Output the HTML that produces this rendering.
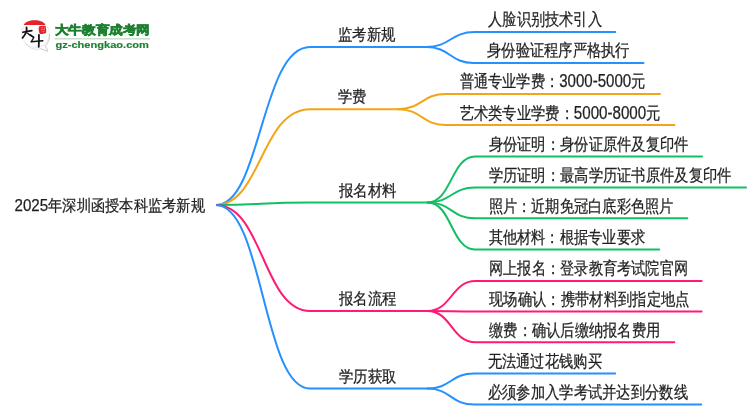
<!DOCTYPE html>
<html><head><meta charset="utf-8"><style>
html,body{margin:0;padding:0;background:#fff;width:750px;height:410px;overflow:hidden}
svg{position:absolute;left:0;top:0;display:block;will-change:transform}
text{font-family:"Liberation Sans",sans-serif;fill:#1f1f1f;stroke:#1f1f1f;stroke-width:0.25px}
</style></head><body>
<svg width="750" height="410" viewBox="0 0 750 410">

<g>
  <circle cx="35.6" cy="33.8" r="13.8" fill="#fff" stroke="#e6e6e6" stroke-width="0.8"/>
  <path d="M49.4 33.8 A13.8 13.8 0 0 1 45.2 45.9" stroke="#c9c9c9" stroke-width="1" fill="none"/>
  <path d="M45.3 45.6 L47.8 51.3 L40.2 48.6" fill="#fff" stroke="#c6c6c6" stroke-width="0.9" stroke-linejoin="round"/>
  <path d="M40.6 48.7 A13.8 13.8 0 0 1 25 43" stroke="#d8d8d8" stroke-width="0.8" fill="none"/>
  <path d="M23.8 24.9 C26 18.6 43.2 18.6 45.4 24.9 Z" fill="#e5242a"/>
  <path d="M38.9 26.6 Q41.8 25.2 45.6 26 Q46.6 29.5 46 33 Q43 34.6 39.6 33.8 Q38 30.2 38.9 26.6 Z" fill="#e3262c"/>
  <path d="M41.2 27.8 L43 27.4 M40.9 29.7 L43.6 29.4 M42.5 31.6 L44.6 31.2 M44.5 27.5 L44.3 30" stroke="#f4a9ab" stroke-width="0.6" fill="none"/>
  <path d="M22.8 32.3 Q27.5 31.2 31.9 30.6" stroke="#141414" stroke-width="1.6" fill="none" stroke-linecap="round"/>
  <path d="M26.5 27.3 Q27.6 32.5 22.5 37.8" stroke="#141414" stroke-width="1.8" fill="none" stroke-linecap="round"/>
  <path d="M27.6 33.2 Q30.5 36 33.6 37" stroke="#141414" stroke-width="1.4" fill="none" stroke-linecap="round"/>
  <path d="M30.6 34.8 L33.8 37.7 L31.3 41.6" stroke="#141414" stroke-width="1.3" fill="none" stroke-linecap="round" stroke-linejoin="round"/>
  <path d="M31.3 41.8 Q37 41.2 42.8 40.7" stroke="#141414" stroke-width="1.5" fill="none" stroke-linecap="round"/>
  <path d="M38.9 34.8 Q39.1 40.5 38.7 46.8" stroke="#141414" stroke-width="1.8" fill="none" stroke-linecap="round"/>
</g>
<text x="54.6" y="34.3" font-size="12.4" font-weight="bold" style="fill:#1c8030;stroke:#1c8030;stroke-width:0.6" textLength="95.5" lengthAdjust="spacingAndGlyphs">大牛教育成考网</text>
<rect x="54.4" y="38.1" width="95.5" height="1.4" fill="#c6dcca"/>
<text x="55.4" y="47.5" font-size="9.3" font-weight="bold" style="fill:#1c8030;stroke:#1c8030;stroke-width:0.15" textLength="93.6" lengthAdjust="spacingAndGlyphs">gz-chengkao.com</text>

<path d="M216 205 C261.12 205 261.12 47.0 310 47.0 H426.4" stroke="#2590ff" stroke-width="2" fill="none" stroke-linecap="butt"/><path d="M426.4 47.0 C450.55 47.0 450.55 32.0 474.7 32.0 H615.2" stroke="#2590ff" stroke-width="2" fill="none" stroke-linecap="round"/><path d="M426.4 47.0 C450.00 47.0 450.00 63.0 473.6 63.0 H643.5" stroke="#2590ff" stroke-width="2" fill="none" stroke-linecap="round"/><path d="M216 205 C261.12 205 261.12 109.2 310 109.2 H397.8" stroke="#f2a516" stroke-width="2" fill="none" stroke-linecap="butt"/><path d="M397.8 109.2 C421.90 109.2 421.90 93.9 446.0 93.9 H660.0" stroke="#f2a516" stroke-width="2" fill="none" stroke-linecap="round"/><path d="M397.8 109.2 C421.90 109.2 421.90 125.1 446.0 125.1 H674.5" stroke="#f2a516" stroke-width="2" fill="none" stroke-linecap="round"/><path d="M216 205 C261.12 205 261.12 202.4 310 202.4 H427.8" stroke="#12bf66" stroke-width="2" fill="none" stroke-linecap="butt"/><path d="M427.8 202.4 C451.40 202.4 451.40 156.4 475.0 156.4 H702.0" stroke="#12bf66" stroke-width="2" fill="none" stroke-linecap="round"/><path d="M427.8 202.4 C451.40 202.4 451.40 187.6 475.0 187.6 H746.0" stroke="#12bf66" stroke-width="2" fill="none" stroke-linecap="round"/><path d="M427.8 202.4 C451.40 202.4 451.40 218.3 475.0 218.3 H687.3" stroke="#12bf66" stroke-width="2" fill="none" stroke-linecap="round"/><path d="M427.8 202.4 C451.40 202.4 451.40 249.5 475.0 249.5 H659.3" stroke="#12bf66" stroke-width="2" fill="none" stroke-linecap="round"/><path d="M216 205 C263.00 205 263.00 311.0 310 311.0 H427.5" stroke="#ff1a74" stroke-width="2" fill="none" stroke-linecap="butt"/><path d="M427.5 311.0 C451.50 311.0 451.50 281.0 475.5 281.0 H701.6" stroke="#ff1a74" stroke-width="2" fill="none" stroke-linecap="round"/><path d="M427.5 311.0 C451.50 311.0 451.50 311.6 475.5 311.6 H701.6" stroke="#ff1a74" stroke-width="2" fill="none" stroke-linecap="round"/><path d="M427.5 311.0 C451.50 311.0 451.50 342.3 475.5 342.3 H674.3" stroke="#ff1a74" stroke-width="2" fill="none" stroke-linecap="round"/><path d="M216 205 C263.00 205 263.00 388.6 310 388.6 H427.5" stroke="#2590ff" stroke-width="2" fill="none" stroke-linecap="butt"/><path d="M427.5 388.6 C450.85 388.6 450.85 373.4 474.2 373.4 H615.2" stroke="#2590ff" stroke-width="2" fill="none" stroke-linecap="round"/><path d="M427.5 388.6 C450.85 388.6 450.85 404.6 474.2 404.6 H701.2" stroke="#2590ff" stroke-width="2" fill="none" stroke-linecap="round"/>
<text x="337.80" y="40.20" font-size="15.7" textLength="57.60" lengthAdjust="spacingAndGlyphs">监考新规</text><text x="488.20" y="25.40" font-size="16.5" textLength="113.60" lengthAdjust="spacingAndGlyphs">人脸识别技术引入</text><text x="487.10" y="56.40" font-size="16.5" textLength="142.40" lengthAdjust="spacingAndGlyphs">身份验证程序严格执行</text><text x="338.20" y="102.40" font-size="15.7" textLength="28.60" lengthAdjust="spacingAndGlyphs">学费</text><text x="459.50" y="87.30" font-size="16.5" textLength="186.00" lengthAdjust="spacingAndGlyphs">普通专业学费：<tspan font-size="18">3000-5000</tspan>元</text><text x="459.50" y="118.50" font-size="16.5" textLength="201.00" lengthAdjust="spacingAndGlyphs">艺术类专业学费：<tspan font-size="18">5000-8000</tspan>元</text><text x="338.80" y="195.60" font-size="15.7" textLength="58.00" lengthAdjust="spacingAndGlyphs">报名材料</text><text x="488.50" y="149.80" font-size="16.5" textLength="200.00" lengthAdjust="spacingAndGlyphs">身份证明：身份证原件及复印件</text><text x="488.50" y="181.00" font-size="16.5" textLength="243.00" lengthAdjust="spacingAndGlyphs">学历证明：最高学历证书原件及复印件</text><text x="488.50" y="211.70" font-size="16.5" textLength="185.20" lengthAdjust="spacingAndGlyphs">照片：近期免冠白底彩色照片</text><text x="488.50" y="242.90" font-size="16.5" textLength="156.70" lengthAdjust="spacingAndGlyphs">其他材料：根据专业要求</text><text x="339.00" y="304.20" font-size="15.7" textLength="57.50" lengthAdjust="spacingAndGlyphs">报名流程</text><text x="489.00" y="274.40" font-size="16.5" textLength="199.00" lengthAdjust="spacingAndGlyphs">网上报名：登录教育考试院官网</text><text x="489.00" y="305.00" font-size="16.5" textLength="200.70" lengthAdjust="spacingAndGlyphs">现场确认：携带材料到指定地点</text><text x="489.00" y="335.70" font-size="16.5" textLength="171.30" lengthAdjust="spacingAndGlyphs">缴费：确认后缴纳报名费用</text><text x="339.00" y="381.80" font-size="15.7" textLength="57.50" lengthAdjust="spacingAndGlyphs">学历获取</text><text x="487.70" y="366.80" font-size="16.5" textLength="114.10" lengthAdjust="spacingAndGlyphs">无法通过花钱购买</text><text x="487.70" y="398.00" font-size="16.5" textLength="200.30" lengthAdjust="spacingAndGlyphs">必须参加入学考试并达到分数线</text><text x="14.50" y="211.20" font-size="15.7" textLength="190.40" lengthAdjust="spacingAndGlyphs"><tspan font-size="17">2025</tspan>年深圳函授本科监考新规</text>
</svg>
</body></html>
